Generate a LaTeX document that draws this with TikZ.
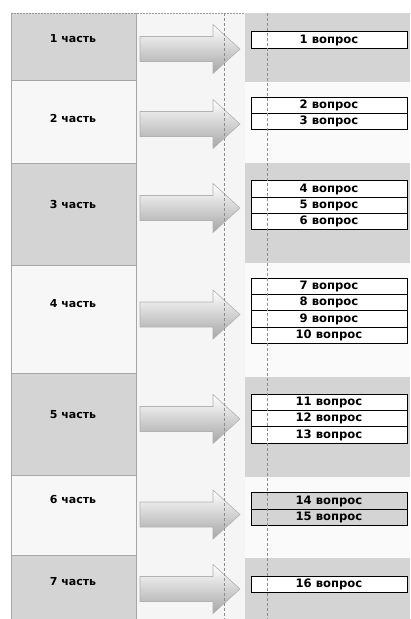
\documentclass[tikz,border=0pt]{standalone}
\usepackage{fontspec}
\setmainfont{DejaVu Sans}
\begin{document}
\begin{tikzpicture}[x=1pt,y=-1pt,
  darkcell/.style={fill=black!17},
  lightcell/.style={fill=black!3},
  cellline/.style={draw=black!35,line width=0.8pt},
  qbox/.style={draw=black,line width=1pt,fill=white,minimum width=156pt,minimum height=16.3pt,inner sep=0pt,
    font=\fontsize{11.6}{12}\selectfont\bfseries},
  qgray/.style={qbox,fill=black!17},
  plabel/.style={font=\fontsize{11}{12}\selectfont\bfseries,inner sep=0pt},
  arr/.style={draw=black!30,line width=0.6pt,top color=white,bottom color=black!35},
  guide/.style={draw=black!45,line width=0.7pt,dash pattern=on 3pt off 2pt}]
\useasboundingbox (0,0) rectangle (410,619);
\fill[white] (0,0) rectangle (410,619);
% middle column background
\fill[black!4] (136,13) rectangle (410,619);
\fill[black!2] (245,13) rectangle (410,619);
% left column cells
\path[darkcell]  (11,13)  rectangle (136,80);
\path[lightcell] (11,80)  rectangle (136,163);
\path[darkcell]  (11,163) rectangle (136,265);
\path[lightcell] (11,265) rectangle (136,373);
\path[darkcell]  (11,373) rectangle (136,475);
\path[lightcell] (11,475) rectangle (136,555);
\path[darkcell]  (11,555) rectangle (136,619);
\foreach \yy in {80,163,265,373,475,555}{\draw[cellline] (11,\yy) -- (136,\yy);}
\draw[cellline] (11,13) -- (11,619);
\draw[cellline] (136,13) -- (136,619);
\draw[draw=black!40,line width=0.8pt,dash pattern=on 2pt off 1pt] (11,13) -- (410,13);
% right gray blocks
\fill[black!17] (245,13)  rectangle (410,82);
\fill[black!17] (245,163) rectangle (410,263);
\fill[black!17] (245,377) rectangle (410,477);
\fill[black!17] (245,558) rectangle (410,619);
% part labels
\node[plabel] (p1) at (73,39)  {1 часть};
\node[plabel] (p2) at (73,118) {2 часть};
\node[plabel] (p3) at (73,204) {3 часть};
\node[plabel] (p4) at (73,304) {4 часть};
\node[plabel] (p5) at (73,415) {5 часть};
\node[plabel] (p6) at (73,499) {6 часть};
\node[plabel] (p7) at (73,582) {7 часть};
% arrows
\foreach \c in {49,124,208,314.5,419,514.5,589}{
  \path[arr] (140,\c-12.5) -- (213,\c-12.5) -- (213,\c-24.5) -- (240,\c) -- (213,\c+24.5) -- (213,\c+12.5) -- (140,\c+12.5) -- cycle;
}
% dashed guide at 224
\draw[guide] (224,13) -- (224,619);
% question boxes
\node[qbox] (q1)  at (329,40)    {1 вопрос};
\node[qbox] (q2)  at (329,105.5) {2 вопрос};
\node[qbox] (q3)  at (329,121.8) {3 вопрос};
\node[qbox] (q4)  at (329,189)   {4 вопрос};
\node[qbox] (q5)  at (329,205.3) {5 вопрос};
\node[qbox] (q6)  at (329,221.6) {6 вопрос};
\node[qbox] (q7)  at (329,286.5) {7 вопрос};
\node[qbox] (q8)  at (329,302.8) {8 вопрос};
\node[qbox] (q9)  at (329,319.1) {9 вопрос};
\node[qbox] (q10) at (329,335.4) {10 вопрос};
\node[qbox] (q11) at (329,402.5) {11 вопрос};
\node[qbox] (q12) at (329,418.8) {12 вопрос};
\node[qbox] (q13) at (329,435.1) {13 вопрос};
\node[qgray] (q14) at (329,501)  {14 вопрос};
\node[qgray] (q15) at (329,517.3){15 вопрос};
\node[qbox] (q16) at (329,584.5) {16 вопрос};
% dashed guide at 267
\draw[guide] (267,13) -- (267,619);
\end{tikzpicture}
\end{document}
